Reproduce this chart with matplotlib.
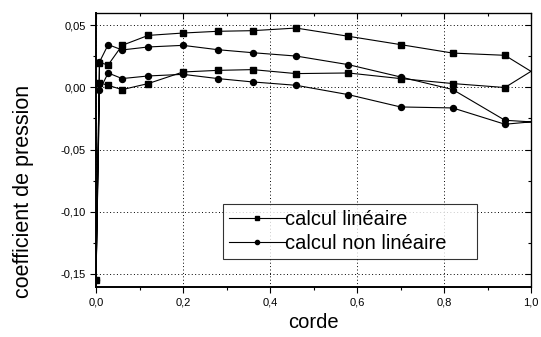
import numpy as np
import matplotlib
matplotlib.use('Agg')
import matplotlib.pyplot as plt
from matplotlib.ticker import FuncFormatter, MultipleLocator

plt.rcParams['font.family'] = ['Liberation Sans', 'DejaVu Sans']

# stations along the chord, leading edge -> trailing edge
corde = [0.0, 0.008, 0.028, 0.06, 0.12, 0.20, 0.28, 0.36, 0.46, 0.58, 0.70, 0.82, 0.94, 1.0]

lin_extrados = [-0.155, 0.0198, 0.018, 0.0337, 0.0417, 0.0436, 0.045, 0.0455, 0.0476, 0.041, 0.0343, 0.0275, 0.0257, 0.0128]
lin_intrados = [-0.155, 0.0035, 0.0016, -0.0019, 0.003, 0.0123, 0.0136, 0.0142, 0.011, 0.0115, 0.007, 0.003, -0.0002, 0.0128]
nl_extrados = [-0.155, 0.0203, 0.0343, 0.030, 0.0324, 0.0337, 0.0302, 0.0278, 0.0251, 0.0182, 0.0083, -0.0018, -0.0265, -0.0278]
nl_intrados = [-0.155, -0.0024, 0.0115, 0.007, 0.0091, 0.0104, 0.007, 0.0043, 0.0016, -0.0059, -0.0158, -0.0166, -0.0297, -0.0278]


def loop(upper, lower):
    # trailing edge -> upper surface -> leading edge -> lower surface -> trailing edge
    x = list(corde[::-1]) + list(corde[1:])
    y = list(upper[::-1]) + list(lower[1:])
    return np.array(x), np.array(y)


fig = plt.figure(figsize=(5.41, 3.37), dpi=100)
ax = fig.add_axes([96 / 541, 50 / 337, 435 / 541, 274 / 337])

for (up, lo), mk, lab in [((lin_extrados, lin_intrados), 's', 'calcul linéaire'),
                          ((nl_extrados, nl_intrados), 'o', 'calcul non linéaire')]:
    x, y = loop(up, lo)
    ax.plot(x, y, color='black', linewidth=0.8, marker=mk, markersize=4.3,
            markevery=list(range(1, len(x) - 1)), label=lab, clip_on=True)

ax.set_xlim(0, 1.0)
ax.set_ylim(-0.1605, 0.0597)

fmt = FuncFormatter(lambda v, p: f'{v:.1f}'.replace('.', ','))
fmty = FuncFormatter(lambda v, p: f'{v:.2f}'.replace('.', ',').replace('-0,00', '0,00'))
ax.xaxis.set_major_locator(MultipleLocator(0.2))
ax.xaxis.set_minor_locator(MultipleLocator(0.1))
ax.yaxis.set_major_locator(MultipleLocator(0.05))
ax.yaxis.set_minor_locator(MultipleLocator(0.025))
ax.xaxis.set_major_formatter(fmt)
ax.yaxis.set_major_formatter(fmty)
ax.tick_params(which='major', direction='out', length=4.5, width=0.8, labelsize=8, pad=3)
ax.tick_params(which='minor', direction='out', length=2.5, width=0.8)

ax.grid(True, which='major', color='black', linestyle=(0, (1, 2.5)), linewidth=0.7)

for side in ['left', 'bottom']:
    ax.spines[side].set_linewidth(1.4)
for side in ['top', 'right']:
    ax.spines[side].set_linewidth(0.9)

# mirrored ticks pointing inside
top = ax.secondary_xaxis('top')
top.xaxis.set_major_locator(MultipleLocator(0.2))
top.xaxis.set_minor_locator(MultipleLocator(0.1))
top.tick_params(which='major', direction='in', length=4.5, width=0.8, labeltop=False)
top.tick_params(which='minor', direction='in', length=2.5, width=0.8)
right = ax.secondary_yaxis('right')
right.yaxis.set_major_locator(MultipleLocator(0.05))
right.yaxis.set_minor_locator(MultipleLocator(0.025))
right.tick_params(which='major', direction='in', length=4.5, width=0.8, labelright=False)
right.tick_params(which='minor', direction='in', length=2.5, width=0.8)

ax.set_xlabel('corde', fontsize=14.5, labelpad=4)
ax.set_ylabel('coefficient de pression', fontsize=15.5)
ax.yaxis.set_label_coords(-0.143, 0.347)

leg = ax.legend(loc='lower left', bbox_to_anchor=(0.292, 0.102, 0.584, 0.216), mode='expand',
                fontsize=14.5, frameon=True, fancybox=False, edgecolor='black',
                handlelength=2.8, handletextpad=0.0, markerscale=0.7,
                borderpad=0.3, labelspacing=0.25, borderaxespad=0)
leg.get_frame().set_linewidth(0.8)

fig.savefig('out.png', dpi=100)
